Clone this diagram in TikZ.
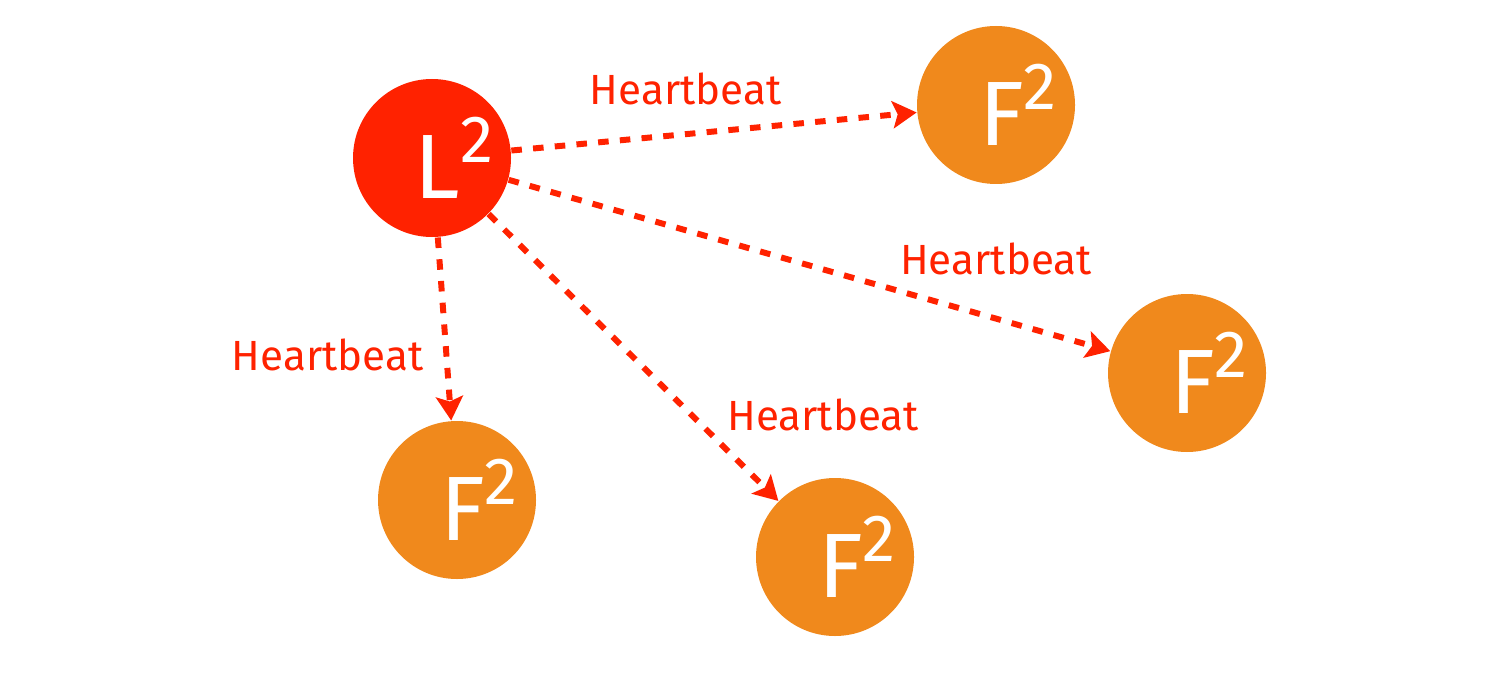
\documentclass[tikz,border=0pt]{standalone}
\usepackage{fontspec}
\setmainfont{Fira Sans}
\usetikzlibrary{arrows.meta}
\definecolor{leadred}{HTML}{FF2200}
\definecolor{followorange}{HTML}{F0891C}
% letter with raised two, set a little right of centre
\newcommand{\nodetext}[1]{\kern0.44cm #1\raisebox{.4em}{\fontsize{19}{19}\selectfont 2}}
\tikzset{
  leader/.style={circle, fill=leadred, minimum size=1.58cm, inner sep=0pt, text=white, font=\fontsize{26}{26}\selectfont},
  follower/.style={leader, fill=followorange},
  beat/.style={draw=leadred, line width=1.7pt, dash pattern=on 3pt off 3.2pt, -{Stealth[length=0.24cm, width=0.27cm, inset=0.05cm]}},
  beatlabel/.style={text=leadred, inner sep=0pt, font=\fontsize{12}{12}\selectfont}
}
\begin{document}
\begin{tikzpicture}
    \useasboundingbox (0,0) rectangle (15.02,6.78);
    % leader and followers
    \node[leader] (lead) at (4.32,5.20) {\nodetext{L}};
    \node[follower] (fa) at (9.96,5.73) {\nodetext{F}};
    \node[follower] (fb) at (11.87,3.05) {\nodetext{F}};
    \node[follower] (fc) at (8.35,1.21) {\nodetext{F}};
    \node[follower] (fd) at (4.57,1.78) {\nodetext{F}};
    % heartbeats
    \draw[beat] (lead) -- (fa) node[beatlabel, pos=0.43, above=0.26cm] (ha) {Heartbeat};
    \draw[beat] (lead) -- (fb) node[beatlabel, pos=0.81, above=0.41cm] (hb) {Heartbeat};
    \draw[beat] (lead) -- (fc) node[beatlabel, pos=0.70, right=0.33cm] (hc) {Heartbeat};
    \draw[beat] (lead) -- (fd) node[beatlabel, pos=0.64, left=0.2cm] (hd) {Heartbeat};
\end{tikzpicture}
\end{document}
